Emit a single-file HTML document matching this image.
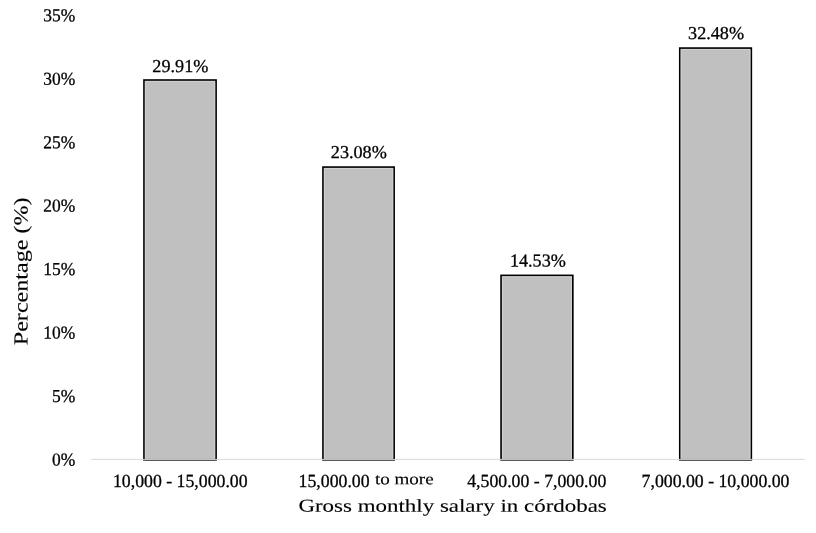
<!DOCTYPE html>
<html lang="en">
<head>
<meta charset="utf-8">
<title>Gross monthly salary in córdobas</title>
<style>
  html, body { margin: 0; padding: 0; background: #ffffff; }
  body { width: 816px; height: 533px; overflow: hidden; }
  svg { display: block; }
  text { font-family: "Liberation Serif", "DejaVu Serif", serif; fill: #000000; stroke: #000000; stroke-width: 0.3px; }
  .bar { fill: #c0c0c0; stroke: #000000; stroke-width: 1.7; }
  .ns { stroke: none; }
  .lt { stroke-width: 0.12px; }
  .hl { fill: none; stroke: #d6d6d6; stroke-width: 0.8; }
</style>
</head>
<body>
<svg width="816" height="533" viewBox="0 0 816 533">
  <rect x="0" y="0" width="816" height="533" fill="#ffffff"/>
  <g>
    <rect class="bar" x="144.0" y="80.05" width="72.05" height="379.75"/>
    <path class="hl" d="M145.30 458.60 V81.35 H214.75 V458.60"/>
    <rect class="bar" x="323.0" y="167.1" width="71.10" height="292.70"/>
    <path class="hl" d="M324.30 458.60 V168.40 H392.80 V458.60"/>
    <rect class="bar" x="501.1" y="275.4" width="71.70" height="184.40"/>
    <path class="hl" d="M502.40 458.60 V276.70 H571.50 V458.60"/>
    <rect class="bar" x="679.8" y="48.1" width="71.50" height="411.70"/>
    <path class="hl" d="M681.10 458.60 V49.40 H750.00 V458.60"/>
  </g>
  <line x1="91" y1="459.4" x2="805" y2="459.4" stroke="#d9d9d9" stroke-width="1"/>
  <g>
    <text transform="translate(75.30 465.50) rotate(0.03) scale(0.9600 1)" text-anchor="end" font-size="18.2">0%</text>
    <text transform="translate(75.30 402.03) rotate(0.03) scale(0.9600 1)" text-anchor="end" font-size="18.2">5%</text>
    <text transform="translate(75.30 338.56) rotate(0.03) scale(0.9600 1)" text-anchor="end" font-size="18.2">10%</text>
    <text transform="translate(75.30 275.09) rotate(0.03) scale(0.9600 1)" text-anchor="end" font-size="18.2">15%</text>
    <text transform="translate(75.30 211.62) rotate(0.03) scale(0.9600 1)" text-anchor="end" font-size="18.2">20%</text>
    <text transform="translate(75.30 148.15) rotate(0.03) scale(0.9600 1)" text-anchor="end" font-size="18.2">25%</text>
    <text transform="translate(75.30 84.68) rotate(0.03) scale(0.9600 1)" text-anchor="end" font-size="18.2">30%</text>
    <text transform="translate(75.30 21.21) rotate(0.03) scale(0.9600 1)" text-anchor="end" font-size="18.2">35%</text>
  </g>
  <g>
    <text transform="translate(180.35 72.10) rotate(0.03) scale(0.9980 1)" text-anchor="middle" font-size="18.2">29.91%</text>
    <text transform="translate(358.80 157.90) rotate(0.03) scale(0.9980 1)" text-anchor="middle" font-size="18.2">23.08%</text>
    <text transform="translate(537.90 266.40) rotate(0.03) scale(0.9980 1)" text-anchor="middle" font-size="18.2">14.53%</text>
    <text transform="translate(716.05 38.90) rotate(0.03) scale(0.9980 1)" text-anchor="middle" font-size="18.2">32.48%</text>
  </g>
  <g>
    <text transform="translate(180.30 487.00) rotate(0.03) scale(0.9550 1)" text-anchor="middle" font-size="18.6">10,000 - 15,000.00</text>
    <text transform="translate(298.60 487.00) rotate(0.03) scale(0.9550 1)" text-anchor="start" font-size="18.6">15,000.00</text>
    <text transform="translate(374.90 484.30) rotate(0.03) scale(1.1850 1)" text-anchor="start" font-size="16.1" class="lt">to more</text>
    <text transform="translate(536.75 487.00) rotate(0.03) scale(0.9550 1)" text-anchor="middle" font-size="18.6">4,500.00 - 7,000.00</text>
    <text transform="translate(715.55 487.00) rotate(0.03) scale(0.9550 1)" text-anchor="middle" font-size="18.6">7,000.00 - 10,000.00</text>
  </g>
  <text transform="translate(452.60 511.70) rotate(0.03) scale(1.2614 1)" text-anchor="middle" font-size="18.2" class="lt">Gross monthly salary in córdobas</text>
  <text transform="translate(27.5 271.3) rotate(-89.97) scale(1.2061 1)" text-anchor="middle" font-size="20" class="lt">Percentage (%)</text>
</svg>
</body>
</html>
